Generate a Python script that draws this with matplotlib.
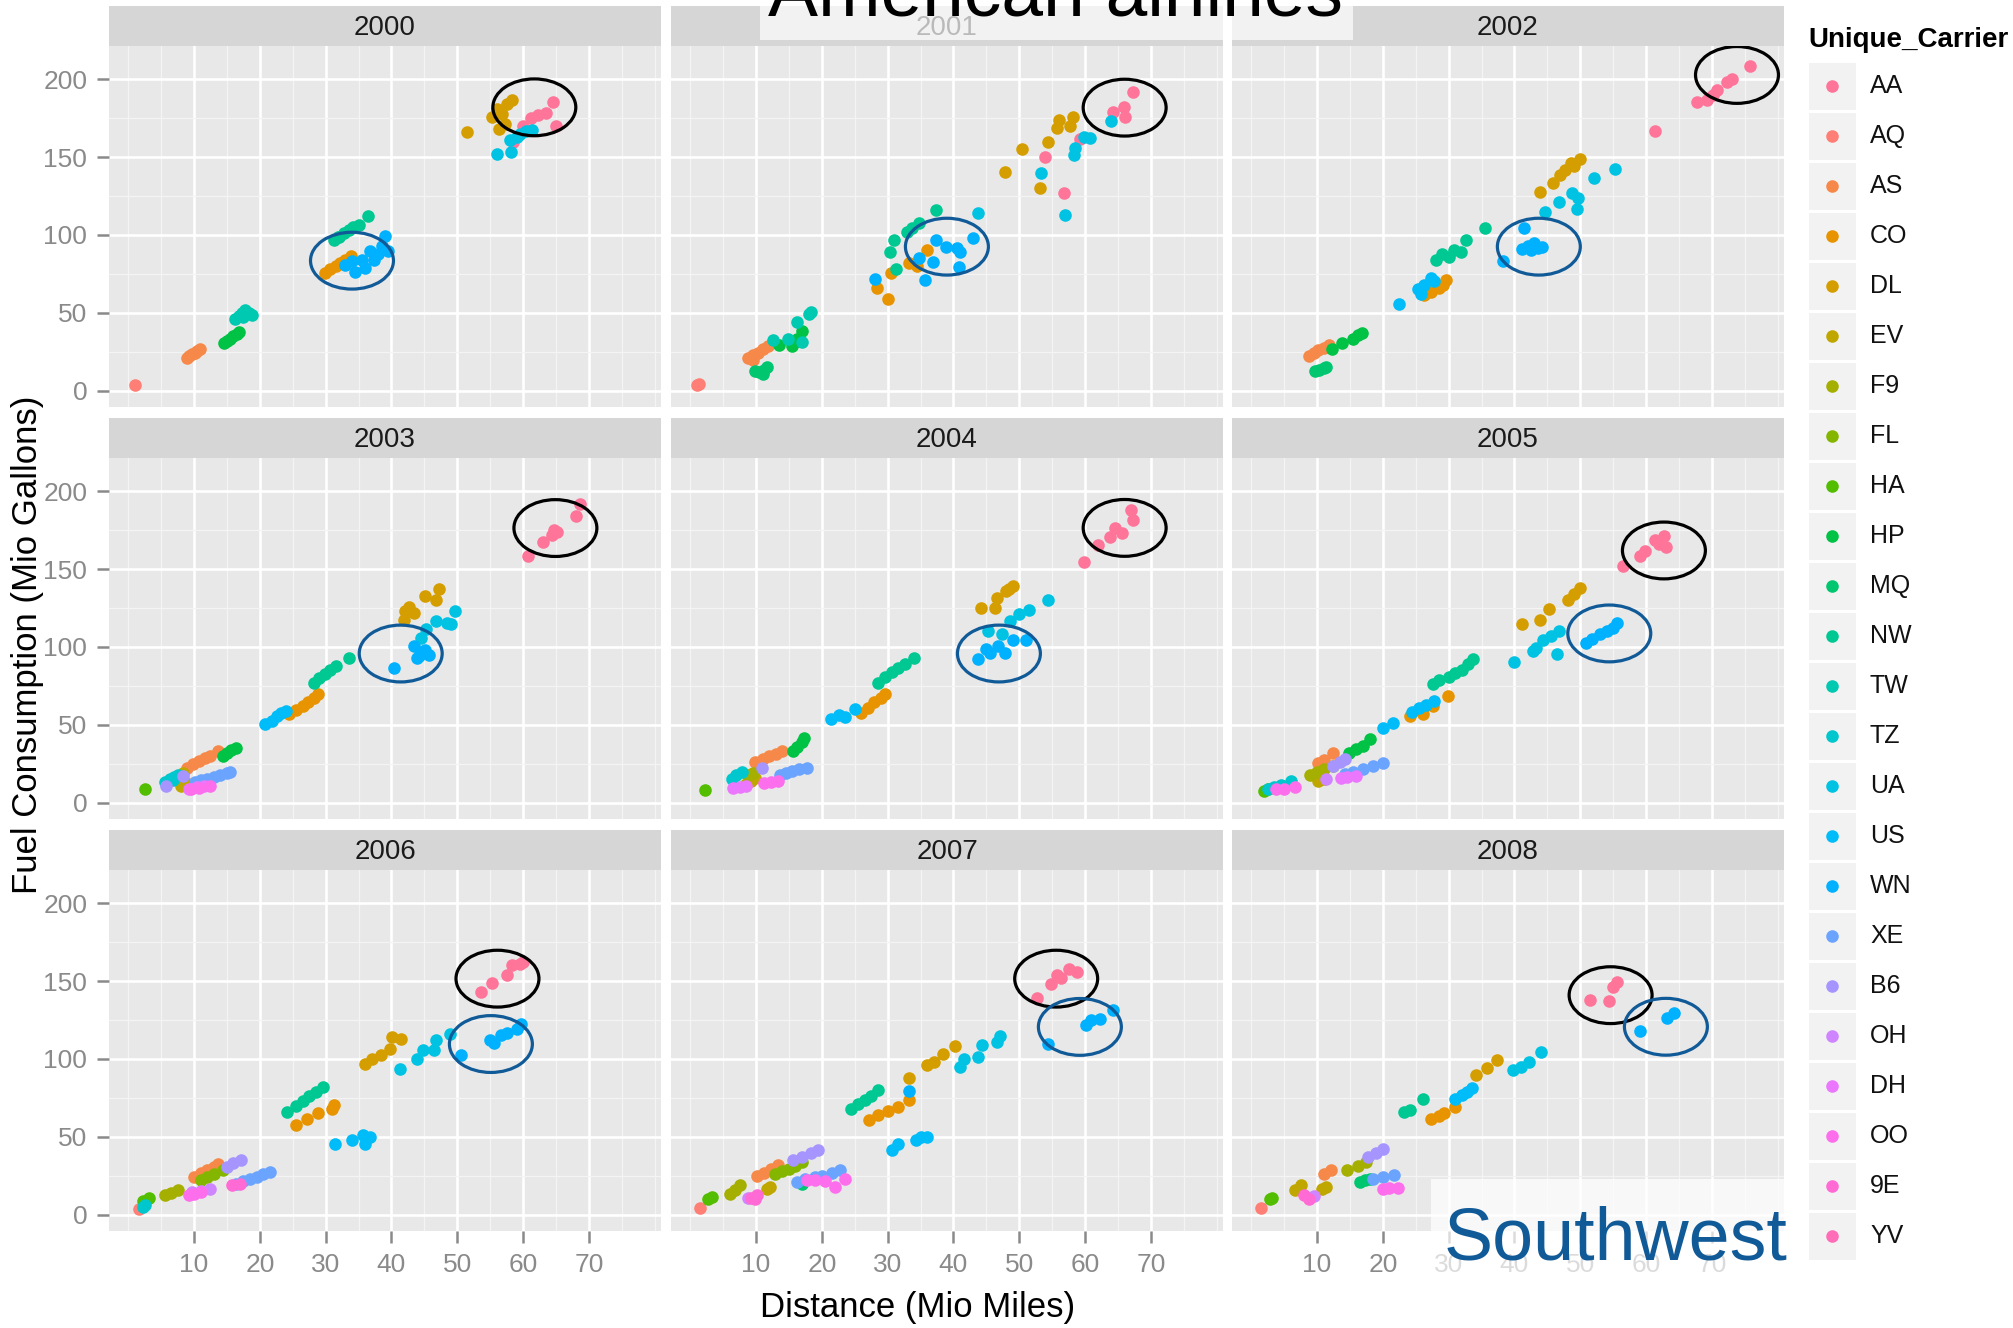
import numpy as np
import matplotlib
matplotlib.use("Agg")
import matplotlib.pyplot as plt
from matplotlib.patches import Ellipse, Rectangle

plt.rcParams['font.family'] = ['Liberation Sans', 'DejaVu Sans']

carriers = ['AA', 'AQ', 'AS', 'CO', 'DL', 'EV', 'F9', 'FL', 'HA', 'HP', 'MQ', 'NW',
            'TW', 'TZ', 'UA', 'US', 'WN', 'XE', 'B6', 'OH', 'DH', 'OO', '9E', 'YV']
years = [2000, 2001, 2002, 2003, 2004, 2005, 2006, 2007, 2008]

# (distance in Mio miles, fuel in Mio gallons)
pts_2000 = {
    'AQ': [(1.0, 3.6)],
    'AS': [(8.9, 21), (9.3, 22.5), (9.7, 23.5), (10.1, 24.5), (10.5, 25.5), (10.9, 26.5)],
    'HP': [(14.5, 30.5), (15.0, 32), (15.5, 33.5), (16, 35), (16.5, 36.5), (16.8, 37.5)],
    'TW': [(16.2, 46), (16.8, 48), (17.3, 50), (17.8, 52), (18.3, 50), (18.8, 48.5), (17.5, 47.5)],
    'CO': [(29.9, 75.5), (30.7, 78), (31.5, 80), (32.2, 82), (33, 84), (33.8, 86.5)],
    'DL': [(51.4, 166), (55.3, 176), (56, 181), (56.8, 178), (57.5, 184), (58.3, 186.5), (57.2, 171), (56.4, 168)],
    'NW': [(31.3, 97), (32, 99), (32.8, 101), (33.5, 103), (34.2, 105), (35, 106.5), (36.4, 112), (31.8, 98.5)],
    'WN': [(33, 81), (34, 83), (34.5, 76.5), (35.5, 84), (36, 78.5), (36.8, 90), (37.3, 84), (38, 88),
           (38.6, 93), (39, 99.5), (39.5, 90)],
    'UA': [(56.1, 152), (58.2, 153.5), (58, 161), (59, 163), (60.5, 166.5), (61.3, 167.5), (59.5, 165)],
    'AA': [(60, 170), (61.2, 175), (62.2, 177), (63.5, 178.5), (64.5, 185.5), (65, 170), (58.5, 160)],
}
pts_2001 = {
    'AQ': [(1.0, 3.6), (1.3, 4.5)],
    'AS': [(8.8, 21), (9.5, 23), (10.3, 24.5), (11, 26.5), (11.9, 29), (9.5, 19.5)],
    'MQ': [(9.9, 12.5), (10.5, 12), (11.2, 13.5), (11.6, 15), (11.0, 11)],
    'HP': [(13.5, 29.5), (15.5, 28.5), (16.3, 33), (17, 38), (16, 31)],
    'TW': [(12.6, 32.5), (14.8, 33.5), (17, 31.5), (16.2, 44), (18, 49.5), (18.3, 50.5)],
    'CO': [(28.4, 66), (30.1, 59), (30.5, 75.5), (33.3, 82), (36, 90.5), (34.5, 80)],
    'NW': [(30.4, 89), (30.9, 96.5), (31.2, 78), (33, 102), (33.7, 104.5), (34.7, 107.5), (37.4, 116)],
    'WN': [(28.1, 72), (34.7, 85.5), (35.7, 71), (36.9, 82.5), (37.4, 96.8), (38.8, 92.5), (40.5, 91.4),
           (40.8, 79.7), (42.9, 97.9), (41, 89)],
    'UA': [(43.7, 114), (53.3, 140), (57, 113), (58.4, 155.7), (58.3, 151.4), (59.9, 163), (60.7, 162), (63.9, 173.4)],
    'DL': [(47.8, 140.3), (50.4, 155), (53.2, 130.4), (54.3, 160), (55.8, 168.5), (56, 173.9), (57.7, 170), (58.2, 175.6)],
    'AA': [(53.9, 150.3), (56.8, 126.8), (59.2, 161.5), (64.3, 179.2), (65.9, 182.4), (66, 176), (67.3, 192)],
}
pts_2002 = {
    'AS': [(8.8, 22), (9.5, 24), (10.2, 26), (11, 27.5), (11.8, 29.5)],
    'MQ': [(9.7, 12.5), (10.3, 13.5), (11, 14.5), (11.3, 15.5)],
    'HP': [(12.3, 27), (13.8, 30.5), (15.4, 33.5), (16.9, 37), (16.2, 35.5)],
    'US': [(22.5, 55.7), (25.4, 65), (26.2, 68), (27.8, 70.5), (25.8, 62.4), (27.3, 72.5)],
    'CO': [(26.2, 61.5), (27.3, 63.5), (28.5, 66), (29.6, 71), (29.2, 68)],
    'NW': [(28.1, 84), (30, 86), (30.8, 90.5), (31.9, 89.3), (32.7, 96.8), (35.5, 104.3), (29, 88)],
    'WN': [(38.2, 83), (41.2, 91), (42, 93), (43, 95), (44.2, 92.5), (43.5, 91.7), (41.4, 104.3), (42.5, 90.5)],
    'UA': [(44.7, 114.6), (46.8, 121.4), (48.8, 126.8), (49.5, 116.5), (49.6, 124), (52.1, 136.4), (55.2, 142.2)],
    'DL': [(43.8, 127.8), (45.8, 133.6), (46.9, 138.5), (47.7, 141.8), (48.6, 146), (50, 148.6), (49, 144)],
    'AA': [(61.4, 167), (67.7, 185.7), (69.2, 186.7), (70.8, 193), (72.3, 198.5), (73.1, 200), (75.8, 208.6), (70.2, 190)],
}
pts_2003 = {
    'HA': [(2.6, 8.6)],
    'B6': [(5.7, 10.7), (8.3, 17)],
    'TZ': [(5.6, 13), (6.3, 15), (7, 16.5), (7.6, 17.5), (6.8, 14.5)],
    'EV': [(8, 11), (8.3, 19), (8.6, 13)],
    'AS': [(8.9, 22.5), (9.8, 24.8), (10.7, 26.6), (11.6, 28.5), (12.5, 30), (13.7, 33)],
    'HP': [(14.4, 30), (15, 32), (15.6, 33.8), (16.4, 35.3)],
    'XE': [(10.2, 13.5), (11, 14.5), (12, 15.5), (13, 16.5), (14, 18), (15, 19), (15.4, 19.6)],
    'DH': [(9.3, 9), (10.5, 10), (11.5, 11)],
    'OO': [(9.5, 8.5), (10.8, 9.5), (12.4, 11)],
    'US': [(20.8, 50.3), (21.8, 52.5), (22.6, 55.6), (23.2, 57.7), (24, 58.8)],
    'CO': [(24.5, 56.7), (25.5, 59.5), (26.5, 62), (27.3, 64.8), (28.2, 67.4), (28.9, 69.5)],
    'NW': [(28.2, 77), (29, 80), (29.9, 82.7), (30.7, 85.5), (31.5, 88), (33.6, 93.1)],
    'WN': [(40.4, 86.6), (43.4, 100.7), (43.8, 93), (44.5, 97), (45.1, 98.3), (45.7, 95), (44.2, 94)],
    'UA': [(44.5, 106), (45.2, 111.5), (46.8, 116.6), (48.5, 115.5), (49, 114.5), (49.7, 123.3)],
    'DL': [(42.1, 123.3), (42.7, 126), (43.4, 122), (45.1, 132.9), (47.2, 137.4), (46.7, 130.2), (41.9, 117.6)],
    'AA': [(60.8, 158.3), (63, 167.3), (64.7, 175.4), (65.1, 173.7), (68, 184.4), (68.6, 191.9), (64.4, 172)],
}
pts_2004 = {
    'HA': [(2.2, 8.1)],
    'TZ': [(6.4, 15.5), (7, 17.5), (7.8, 19.5)],
    'DH': [(6.5, 9.6), (7.5, 10), (8.5, 10.5)],
    'EV': [(8.5, 11.8), (9.2, 14), (9.9, 16)],
    'F9': [(9.5, 19.3), (8.8, 17.5)],
    'B6': [(10.9, 22.5)],
    'OO': [(11.2, 12.8), (12.3, 13.5), (13.3, 14)],
    'AS': [(9.9, 26), (11, 28), (12, 30), (13, 31.5), (13.9, 33)],
    'HP': [(15.6, 33), (16.3, 36), (17, 39), (17.3, 41.7)],
    'XE': [(13.6, 18), (14.5, 19.2), (15.5, 20.4), (16.5, 21.4), (17.7, 22.5)],
    'US': [(21.4, 53.5), (22.6, 56.5), (23.5, 55), (25, 59.9)],
    'CO': [(25.9, 57.8), (27, 61), (28, 64.5), (29, 67.3), (29.6, 69.5)],
    'NW': [(28.6, 77), (29.6, 80.5), (30.6, 83.9), (31.6, 86.6), (32.6, 88.8), (34, 93)],
    'WN': [(43.7, 92), (45.6, 96.3), (46.8, 100.5), (47.8, 96.3), (49, 104.8), (51, 104.8), (45, 99)],
    'UA': [(45.2, 110.2), (47.3, 108.5), (48.6, 116.6), (50, 120.9), (51.4, 124), (54.4, 130.5)],
    'DL': [(44.2, 125.1), (46.3, 125.1), (46.6, 131.6), (48, 135.8), (49, 139), (48.5, 137)],
    'AA': [(59.9, 154.4), (61.9, 165.8), (63.8, 170.7), (64.6, 176.5), (65.6, 173.3), (67, 188.2), (67.2, 181.8)],
}
pts_2005 = {
    'HA': [(2, 7.5), (2.5, 8.5)],
    'TZ': [(2.6, 8.5), (3.5, 10), (4.5, 11.5), (6, 14)],
    'OO': [(3.7, 8.6), (5, 9), (6.6, 10)],
    'F9': [(9, 18), (10, 19.5), (11, 21.5), (12.5, 23.5)],
    'EV': [(10.1, 14), (11, 15.5)],
    'AS': [(10.1, 25.7), (11, 27.5), (12.4, 32)],
    'B6': [(12.5, 23.5), (13.5, 26), (14.2, 28)],
    'OH': [(11.3, 15)],
    'DH': [(13.6, 16), (14.5, 16.5), (15.9, 17)],
    'XE': [(14.2, 18.2), (15.5, 19.5), (17, 21.5), (18.5, 23.5), (20, 25.7)],
    'HP': [(14.8, 32), (16, 34.5), (17, 36.5), (18, 40.6)],
    'US': [(20, 48), (21.5, 51.3), (24.4, 58), (25.5, 61), (26.5, 62.5), (27.8, 65)],
    'CO': [(24.1, 55.6), (26.1, 56.7), (27.6, 62), (29.9, 68.4)],
    'NW': [(27.6, 76), (28.6, 78.5), (30, 80.5), (31, 83), (32, 85.5), (33, 89), (33.7, 92)],
    'UA': [(40, 90.3), (42.8, 97.3), (43.3, 99.5), (44.4, 104.8), (45.6, 107), (46.7, 110.2), (46.4, 95.2)],
    'WN': [(50.8, 102.7), (51.8, 105), (53, 108.5), (54, 110), (55, 112.5), (55.5, 115.5)],
    'DL': [(41.2, 115), (43.8, 117.6), (45.3, 124.5), (48.2, 130.5), (50, 138), (49, 134)],
    'AA': [(56.5, 151.9), (59, 158.7), (59.8, 161.5), (61.3, 169), (62.7, 171.1), (63, 164), (61.9, 166)],
}
pts_2006 = {
    'AQ': [(1.6, 3.9)],
    'HA': [(2.2, 9), (3.2, 11)],
    'TZ': [(2.2, 5), (2.6, 6.5)],
    'F9': [(5.6, 12.4), (6.5, 14), (7.6, 15.6)],
    'AS': [(10, 24.2), (11, 26.5), (12, 28.5), (13, 30.5), (13.7, 32.8)],
    'FL': [(11, 22), (12, 24), (13, 26), (14.4, 28.5)],
    'B6': [(15, 30.6), (16, 33), (17.1, 35)],
    'OH': [(9.7, 14.5), (11, 15.5), (12.4, 16.7)],
    'OO': [(9.3, 12.4), (10, 13.5), (11, 14.6)],
    '9E': [(15.7, 19.3), (17, 20)],
    'XE': [(16.4, 20), (17.5, 21.5), (18.5, 23), (19.5, 24.5), (20.5, 25.8), (21.5, 27.4)],
    'NW': [(24.2, 66), (25.5, 70), (26.5, 73), (27.5, 76), (28.5, 78.5), (29.6, 82)],
    'CO': [(25.5, 57.4), (27.2, 61.7), (28.9, 65), (30.9, 68), (31.3, 70.2)],
    'US': [(31.4, 45.6), (34, 47.7), (35.7, 51), (36.7, 50), (36, 45.6)],
    'DL': [(36, 97), (37, 100), (38.4, 102.4), (39.7, 106.6), (40.1, 114), (41.4, 113)],
    'UA': [(41.3, 93.8), (43.8, 100.2), (44.8, 105.6), (46.7, 112), (48.9, 116.3), (46.5, 106)],
    'WN': [(50.5, 102.4), (55, 112), (55.6, 110.5), (56.6, 115.6), (57.5, 117), (59, 119), (59.7, 122.7)],
    'AA': [(53.6, 143), (55.3, 148.8), (57.6, 153.7), (58.3, 160.2), (59.5, 161), (60, 162.3)],
}
pts_2007 = {
    'AQ': [(1.5, 4.3)],
    'HA': [(2.7, 10.3), (3.3, 11.5)],
    'F9': [(6.1, 13.5), (6.8, 16), (7.5, 18.8)],
    'OH': [(8.8, 11)],
    '9E': [(9.3, 10.5), (10.2, 12.4), (9.8, 10)],
    'EV': [(11.6, 16.7), (12.2, 18)],
    'AS': [(10.2, 25), (11.2, 27), (12.3, 29.5), (13.3, 31.7)],
    'FL': [(12.9, 26.3), (14, 28), (15, 29.5), (16, 31.5), (17, 33.8)],
    'B6': [(15.6, 35), (17, 37), (18.3, 39.5), (19.4, 41.3)],
    'MQ': [(17, 20)],
    'XE': [(16.3, 21), (17.5, 23), (19, 24.5), (20, 25), (21.5, 26.5), (22.8, 28.5)],
    'OO': [(17.7, 22), (19, 22.5), (20.5, 21.5), (22, 18), (23.5, 23)],
    'NW': [(24.4, 68), (25.5, 71), (26.5, 73.5), (27.5, 76.5), (28.6, 80)],
    'CO': [(27.2, 60.6), (28.5, 64), (30, 66.5), (31.5, 69), (33.3, 73.5)],
    'US': [(30.6, 41.3), (31.6, 45.6), (34.3, 47.8), (35, 50), (36, 49.9)],
    'WN': [(33.2, 79.2), (54.4, 109.8), (60.2, 121.6), (60.9, 124.8), (62.2, 125.9), (64.3, 131.3)],
    'DL': [(33.2, 87.8), (36, 96), (37.1, 98), (38.4, 103.4), (40.3, 108.1)],
    'UA': [(41, 94.9), (41.6, 100.2), (43.7, 101.3), (44.4, 109.2), (46.6, 110.9), (47.1, 114.8)],
    'AA': [(52.7, 139.2), (54.8, 148.4), (55.8, 153.7), (57.5, 158), (58.8, 155.9), (56.4, 152)],
}
pts_2008 = {
    'AQ': [(1.5, 4.3)],
    'HA': [(2.8, 10.3), (3.2, 11)],
    'EV': [(6.6, 15.6), (7.5, 18.9), (10.7, 16.7), (11.3, 18)],
    'OH': [(9.5, 12)],
    '9E': [(8.1, 12.4), (8.8, 10.3)],
    'AS': [(11, 26.4), (12.2, 28.5)],
    'F9': [(14.5, 28.5), (16.2, 31.5), (17.4, 33.9)],
    'MQ': [(16.5, 21), (17.3, 22), (18, 23.1)],
    'B6': [(17.7, 37), (19, 39.5), (20, 42.4)],
    'XE': [(18.5, 23.2), (20, 24.5), (21.7, 25.7)],
    'OO': [(20, 16.7), (21, 17), (22.3, 17.1)],
    'NW': [(23.2, 66), (24.2, 67.5), (26.1, 74.6)],
    'CO': [(27.3, 61.7), (28.5, 63.5), (29.3, 65), (30.9, 69.2)],
    'US': [(31, 74.6), (32, 77), (32.8, 79), (33.5, 81.5)],
    'DL': [(34.1, 90), (35.8, 94), (37.3, 99.2)],
    'UA': [(39.7, 92.8), (41, 95), (42.2, 98), (44.1, 104.6)],
    'WN': [(59, 118), (63.1, 126.5), (64.3, 129.3)],
    'AA': [(51.5, 137.8), (54.3, 137.2), (54.9, 146.4), (55.6, 149.6)],
}
year_pts = [pts_2000, pts_2001, pts_2002, pts_2003, pts_2004, pts_2005, pts_2006, pts_2007, pts_2008]

# hand-drawn ring highlights (American = black, Southwest = blue)
aa_ring = [(61.7, 182), (66, 181.8), (73.8, 202.8), (64.9, 176.4), (66, 176.5),
           (62.7, 162), (56.1, 151.6), (55.6, 151.6), (54.6, 141)]
wn_ring = [(34, 83.5), (39, 92.5), (43.7, 92.5), (41.4, 95.8), (46.9, 95.8),
           (54.4, 108.7), (55.1, 109.6), (59.2, 120.6), (63, 120.7)]

x_ticks = [10, 20, 30, 40, 50, 60, 70]
y_ticks = [0, 50, 100, 150, 200]


def hcl(h, c=100, l=68):
    # polar CIE-Luv -> sRGB, like R's hcl()
    hr = np.deg2rad(h)
    U, V = c * np.cos(hr), c * np.sin(hr)
    Xn, Yn, Zn = 0.95047, 1.0, 1.08883
    un = 4 * Xn / (Xn + 15 * Yn + 3 * Zn)
    vn = 9 * Yn / (Xn + 15 * Yn + 3 * Zn)
    Y = Yn * ((l + 16) / 116) ** 3
    u = U / (13 * l) + un
    v = V / (13 * l) + vn
    X = 9 * Y * u / (4 * v)
    Z = (12 - 3 * u - 20 * v) * Y / (4 * v)
    M = np.array([[3.2404542, -1.5371385, -0.4985314],
                  [-0.9692660, 1.8760108, 0.0415560],
                  [0.0556434, -0.2040259, 1.0572252]])
    rgb = M @ np.array([X, Y, Z])
    rgb = np.where(rgb <= 0.0031308, 12.92 * rgb, 1.055 * np.abs(rgb) ** (1 / 2.4) - 0.055)
    return tuple(np.clip(rgb, 0, 1))


colors = {name: hcl(15 * i) for i, name in enumerate(carriers)}

W, H = 2013, 1328
fig = plt.figure(figsize=(W / 100, H / 100), dpi=100)


def px_rect(x, y, w, h):
    return [x / W, 1 - (y + h) / H, w / W, h / H]


col_left = [109, 671, 1232]
row_top = [46, 458, 870]
pw, ph, sh = 552, 361, 40
tick_col = '#8a8a8a'

for k, yr in enumerate(years):
    r, c = divmod(k, 3)
    ax = fig.add_axes(px_rect(col_left[c], row_top[r], pw, ph))
    ax.set_facecolor('#e8e8e8')
    pts = year_pts[k]
    for name in carriers:
        if name in pts:
            xs, ys = zip(*pts[name])
            ax.scatter(xs, ys, s=82, color=colors[name], linewidths=0, zorder=3)
    for (cx, cy), ec in [(aa_ring[k], 'black'), (wn_ring[k], '#115a98')]:
        ax.add_patch(Ellipse((cx, cy), 12.6, 36.5, fill=False, ec=ec, lw=2.3, zorder=4))
    ax.set_xlim(-2.91, 80.94)
    ax.set_ylim(-10.5, 221.4)
    ax.set_xticks(x_ticks)
    ax.set_xticks([0, 5, 15, 25, 35, 45, 55, 65, 75, 80], minor=True)
    ax.set_yticks(y_ticks)
    ax.set_yticks([25, 75, 125, 175], minor=True)
    ax.grid(which='major', color='white', lw=1.9)
    ax.grid(which='minor', color='#f4f4f4', lw=0.9)
    ax.set_axisbelow(True)
    for s in ax.spines.values():
        s.set_visible(False)
    ax.tick_params(which='minor', length=0)
    ax.tick_params(which='major', length=8.6, width=1.8, color=tick_col, labelcolor=tick_col,
                   labelsize=19, pad=7,
                   bottom=(r == 2), labelbottom=(r == 2), left=(c == 0), labelleft=(c == 0))
    # facet strip
    st = fig.add_axes(px_rect(col_left[c], row_top[r] - sh, pw, sh))
    st.set_facecolor('#d6d6d6')
    st.set_xticks([])
    st.set_yticks([])
    for s in st.spines.values():
        s.set_visible(False)
    st.text(0.5, 0.45, str(yr), ha='center', va='center', fontsize=20, color='#1a1a1a',
            transform=st.transAxes)

fig.text(28 / W, 1 - 645 / H, 'Fuel Consumption (Mio Gallons)', rotation=90,
         ha='center', va='center', fontsize=25, color='black')
fig.text(918 / W, 1 - 1307 / H, 'Distance (Mio Miles)', ha='center', va='center',
         fontsize=25, color='black')

# overlay in pixel coordinates: legend, title box, Southwest label
ov = fig.add_axes([0, 0, 1, 1])
ov.set_xlim(0, W)
ov.set_ylim(H, 0)
ov.axis('off')
ov.patch.set_alpha(0)
ov.set_zorder(10)

ov.text(1808, 40, 'Unique_Carrier', fontsize=20, fontweight='bold', ha='left', va='center')
for i, name in enumerate(carriers):
    yc = 86 + 50 * i
    ov.add_patch(Rectangle((1809, yc - 23.5), 47, 47, color='#f2f2f2', lw=0))
    ov.scatter([1832], [yc], s=82, color=colors[name], linewidths=0, zorder=3)
    ov.text(1870, yc, name, fontsize=18, ha='left', va='center', color='#111111')

ov.add_patch(Rectangle((760, -20), 593, 60, color='white', alpha=0.7, lw=0, zorder=2))
ov.text(1055, 15, 'American airlines', fontsize=54, ha='center', va='baseline',
        color='black', zorder=3)

ov.add_patch(Rectangle((1431, 1179), 354, 103, color='white', alpha=0.7, lw=0, zorder=2))
ov.text(1444, 1259, 'Southwest', fontsize=53, ha='left', va='baseline',
        color='#115a98', zorder=3)

fig.savefig('out.png', dpi=100)
